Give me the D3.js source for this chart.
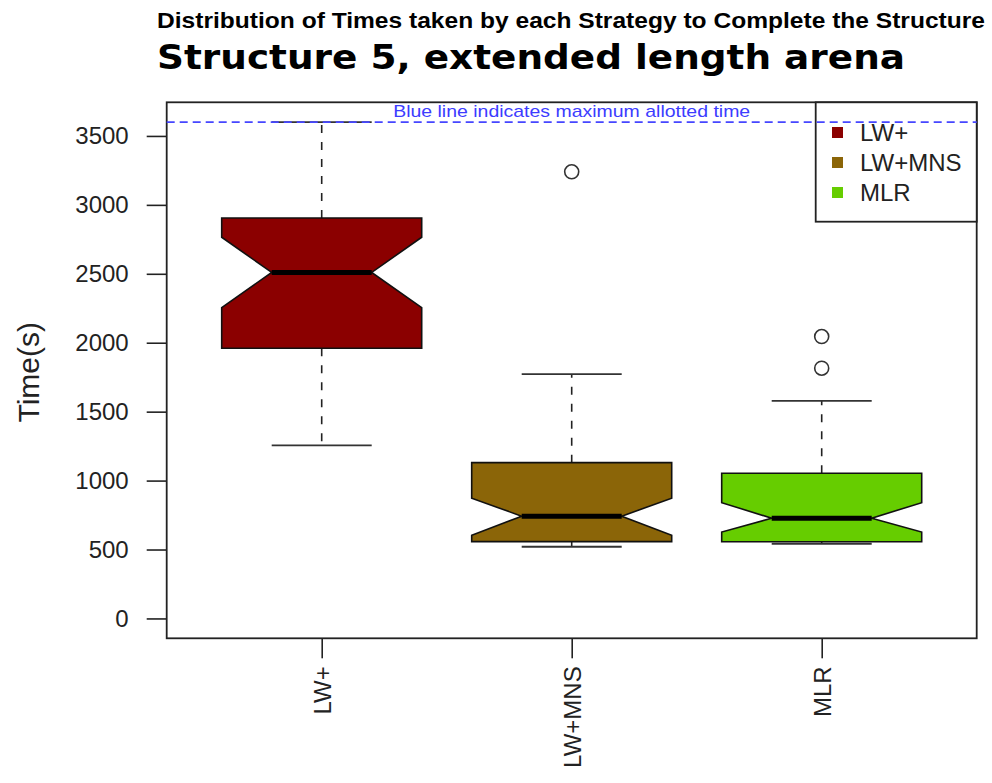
<!DOCTYPE html>
<html>
<head>
<meta charset="utf-8">
<script src="https://cdn.jsdelivr.net/npm/d3@7"></script>
<style>
  html, body { margin: 0; padding: 0; background: #fff; }
  svg { display: block; }
</style>
</head>
<body>
<div id="chart"></div>
<script>
// Strategies and their box-plot summaries (seconds)
const categories  = ["LW+", "LW+MNS", "MLR"];
const colors      = ["#8B0000", "#8B6508", "#66CD00"];
const whiskerLow  = [1255, 520, 542];
const q1          = [1960, 557, 556];
const median      = [2510, 742, 727];
const q3          = [2905, 1130, 1053];
const whiskerHigh = [3600, 1772, 1578];
const notchLow    = [2255, 603, 627];
const notchHigh   = [2765, 872, 840];
const outliers    = [[], [3240], [2045, 1815]];
const yTicks      = [0, 500, 1000, 1500, 2000, 2500, 3000, 3500];
const maxAllotted = 3600;

const W = 992, H = 783;
const plot = { left: 166.7, right: 976.7, top: 102.3, bottom: 638.3 };

const svg = d3.select("#chart").append("svg")
  .attr("width", W).attr("height", H)
  .style("font-family", "'Liberation Sans', Arial, sans-serif");

// R-style axis extents: 4% padding on each side
const x = d3.scaleLinear().domain([0.38, 3.62]).range([plot.left, plot.right]);
const y = d3.scaleLinear().domain([-144, 3744]).range([plot.bottom, plot.top]);

const ink = "#222";

// Titles
svg.append("text")
  .attr("x", 157).attr("y", 28)
  .attr("textLength", 828).attr("lengthAdjust", "spacingAndGlyphs")
  .style("font-family", "'Liberation Sans Narrow', 'Liberation Sans', Arial, sans-serif")
  .style("font-weight", "bold").style("font-size", "22px")
  .text("Distribution of Times taken by each Strategy to Complete the Structure");

svg.append("text")
  .attr("x", 157).attr("y", 69)
  .attr("textLength", 748).attr("lengthAdjust", "spacingAndGlyphs")
  .style("font-family", "'DejaVu Sans', sans-serif")
  .style("font-weight", "bold").style("font-size", "33px")
  .text("Structure 5, extended length arena");

// Y axis
const yAxis = d3.axisLeft(y).tickValues(yTicks).tickSize(20).tickPadding(18)
  .tickFormat(d3.format("d"));
const gy = svg.append("g").attr("transform", `translate(${plot.left},0)`).call(yAxis);
gy.select(".domain").remove();
gy.selectAll(".tick line").attr("stroke", ink).attr("stroke-width", 1.6);
gy.selectAll(".tick text").attr("fill", "#222").style("font-size", "24px")
  .style("font-family", "'Liberation Sans', Arial, sans-serif");

svg.append("text")
  .attr("transform", `translate(39,${(plot.top + plot.bottom) / 2 + 2}) rotate(-90)`)
  .attr("text-anchor", "middle")
  .style("font-size", "30px").attr("fill", "#222")
  .text("Time(s)");

// X axis
const xAxis = d3.axisBottom(x).tickValues([1, 2, 3]).tickSize(20)
  .tickFormat((d) => categories[d - 1]);
const gx = svg.append("g").attr("transform", `translate(0,${plot.bottom})`).call(xAxis);
gx.select(".domain").remove();
gx.selectAll(".tick line").attr("stroke", ink).attr("stroke-width", 1.6);
gx.selectAll(".tick text")
  .attr("fill", "#222").style("font-size", "24px")
  .style("font-family", "'Liberation Sans', Arial, sans-serif")
  .attr("text-anchor", "end")
  .attr("transform", "rotate(-90)")
  .attr("x", -28).attr("y", 0).attr("dy", "0.36em");

// Boxes
const boxHalf = 0.4, capHalf = 0.2;
const stats = categories.map((c, i) => ({
  i, pos: i + 1, color: colors[i],
  lo: whiskerLow[i], q1: q1[i], med: median[i], q3: q3[i], hi: whiskerHigh[i],
  nlo: notchLow[i], nhi: notchHigh[i], out: outliers[i]
}));

const g = svg.append("g");

stats.forEach((s) => {
  const cx = x(s.pos);
  const hw = x(s.pos + boxHalf) - cx;
  const cw = x(s.pos + capHalf) - cx;

  // whiskers
  g.append("line").attr("x1", cx).attr("x2", cx).attr("y1", y(s.q3)).attr("y2", y(s.hi))
    .attr("stroke", ink).attr("stroke-width", 1.6).attr("stroke-dasharray", "8,9");
  g.append("line").attr("x1", cx).attr("x2", cx).attr("y1", y(s.q1)).attr("y2", y(s.lo))
    .attr("stroke", ink).attr("stroke-width", 1.6).attr("stroke-dasharray", "8,9");
  g.append("line").attr("x1", cx - cw).attr("x2", cx + cw).attr("y1", y(s.hi)).attr("y2", y(s.hi))
    .attr("stroke", "#333").attr("stroke-width", 1.8);
  g.append("line").attr("x1", cx - cw).attr("x2", cx + cw).attr("y1", y(s.lo)).attr("y2", y(s.lo))
    .attr("stroke", "#333").attr("stroke-width", 1.8);

  // notched box
  const pts = [
    [cx - hw, y(s.q1)], [cx - hw, y(s.nlo)], [cx - hw / 2, y(s.med)], [cx - hw, y(s.nhi)],
    [cx - hw, y(s.q3)], [cx + hw, y(s.q3)], [cx + hw, y(s.nhi)], [cx + hw / 2, y(s.med)],
    [cx + hw, y(s.nlo)], [cx + hw, y(s.q1)]
  ];
  g.append("path").attr("d", d3.line()(pts) + "Z")
    .attr("fill", s.color).attr("stroke", "#111").attr("stroke-width", 1.6)
    .attr("stroke-linejoin", "miter");

  // median
  g.append("line").attr("x1", cx - hw / 2).attr("x2", cx + hw / 2)
    .attr("y1", y(s.med)).attr("y2", y(s.med))
    .attr("stroke", "#000").attr("stroke-width", 5);

  // outliers
  s.out.forEach((v) => {
    g.append("circle").attr("cx", cx).attr("cy", y(v)).attr("r", 7)
      .attr("fill", "none").attr("stroke", "#333").attr("stroke-width", 1.6);
  });
});

// Plot frame
svg.append("rect")
  .attr("x", plot.left).attr("y", plot.top)
  .attr("width", plot.right - plot.left).attr("height", plot.bottom - plot.top)
  .attr("fill", "none").attr("stroke", ink).attr("stroke-width", 1.8);

// Legend (top right)
const legend = svg.append("g");
legend.append("rect")
  .attr("x", 815.7).attr("y", plot.top)
  .attr("width", plot.right - 815.7).attr("height", 221.7 - plot.top)
  .attr("fill", "#fff").attr("stroke", ink).attr("stroke-width", 1.8);
categories.forEach((c, i) => {
  const cy = 132.5 + i * 30;
  legend.append("rect").attr("x", 832).attr("y", cy - 5.5).attr("width", 11).attr("height", 11)
    .attr("fill", colors[i]);
  legend.append("text").attr("x", 860).attr("y", cy + 8.5)
    .style("font-size", "24px").attr("fill", "#222").text(c);
});

// Maximum allotted time marker
svg.append("line")
  .attr("x1", plot.left).attr("x2", plot.right)
  .attr("y1", y(maxAllotted)).attr("y2", y(maxAllotted))
  .attr("stroke", "#4646ff").attr("stroke-width", 1.8).attr("stroke-dasharray", "8,5");

svg.append("text")
  .attr("x", (plot.left + plot.right) / 2).attr("y", 116.5)
  .attr("text-anchor", "middle")
  .attr("textLength", 357).attr("lengthAdjust", "spacingAndGlyphs")
  .style("font-size", "17px").attr("fill", "#3c3cff")
  .text("Blue line indicates maximum allotted time");
</script>
</body>
</html>
